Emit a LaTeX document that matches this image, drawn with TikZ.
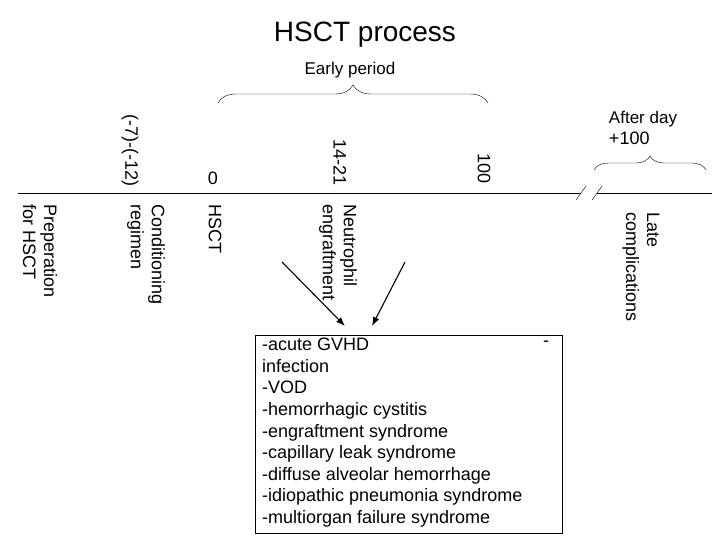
\documentclass[tikz,border=0pt]{standalone}
\usepackage{fontspec}
\setmainfont{Liberation Sans}
\usetikzlibrary{decorations.pathreplacing,arrows.meta}
\begin{document}
\begin{tikzpicture}[x=1pt, y=-1pt, font=\fontsize{18}{21}\selectfont,
    day/.style={rotate=-90, anchor=east, inner sep=0pt},
    phase/.style={rotate=-90, anchor=west, align=left, inner sep=0pt},
    brc/.style={decorate, decoration={brace, amplitude=#1}}]
  \useasboundingbox (0,0) rectangle (720,540);
  \node (title) at (365,35) {\fontsize{28}{32}\selectfont HSCT process};
  \node (early) at (350,70) {\fontsize{17}{20}\selectfont Early period};
  \coordinate (e1) at (218,103);
  \coordinate (e2) at (488,103);
  \draw[brc=18] (e1) -- (e2);
  \node[align=left] (after) at (643,128) {\fontsize{17}{20}\selectfont After day\\+100};
  \coordinate (l1) at (594,170);
  \coordinate (l2) at (706,170);
  \draw[brc=14] (l1) -- (l2);
  % time line
  \coordinate (t0) at (18,193);
  \coordinate (t1) at (581,193);
  \coordinate (t2) at (597,193);
  \coordinate (t3) at (712,193);
  \draw (t0) -- (t1);
  \draw (t2) -- (t3);
  \draw (576,200) -- (586,186);
  \draw (592,200) -- (602,186);
  % days
  \node[day] (d1) at (130,187) {(-7)-(-12)};
  \node (d2) at (213,178) {0};
  \node[day] (d3) at (340,186) {14-21};
  \node[day] (d4) at (484,184) {100};
  % phases
  \node[phase] (p1) at (40,204) {Preperation\\for HSCT};
  \node[phase] (p2) at (146,204) {Conditioning\\regimen};
  \node[phase] (p3) at (215,204) {HSCT};
  \node[phase] (p4) at (338,204) {Neutrophil\\engraftment};
  \node[phase] (p5) at (641,212) {Late\\complications};
  % complications
  \node[draw, anchor=north west, minimum width=307pt, minimum height=198pt,
        inner sep=0pt] (box) at (255,335) {};
  \node[anchor=north west, align=left, inner sep=0pt,
        font=\fontsize{18}{21.6}\selectfont] (list) at (262,338)
    {-acute GVHD\\infection\\-VOD\\-hemorrhagic cystitis\\-engraftment syndrome\\
     -capillary leak syndrome\\-diffuse alveolar hemorrhage\\
     -idiopathic pneumonia syndrome\\-multiorgan failure syndrome};
  \node (dash) at (546,344) {-};
  \coordinate (a1) at (282,262);
  \coordinate (a2) at (405,262);
  \coordinate (b1) at (345,326);
  \coordinate (b2) at (372,326);
  \draw[line width=1.1pt, -{Latex[length=9pt]}] (a1) -- (b1);
  \draw[line width=1.1pt, -{Latex[length=9pt]}] (a2) -- (b2);
\end{tikzpicture}
\end{document}
